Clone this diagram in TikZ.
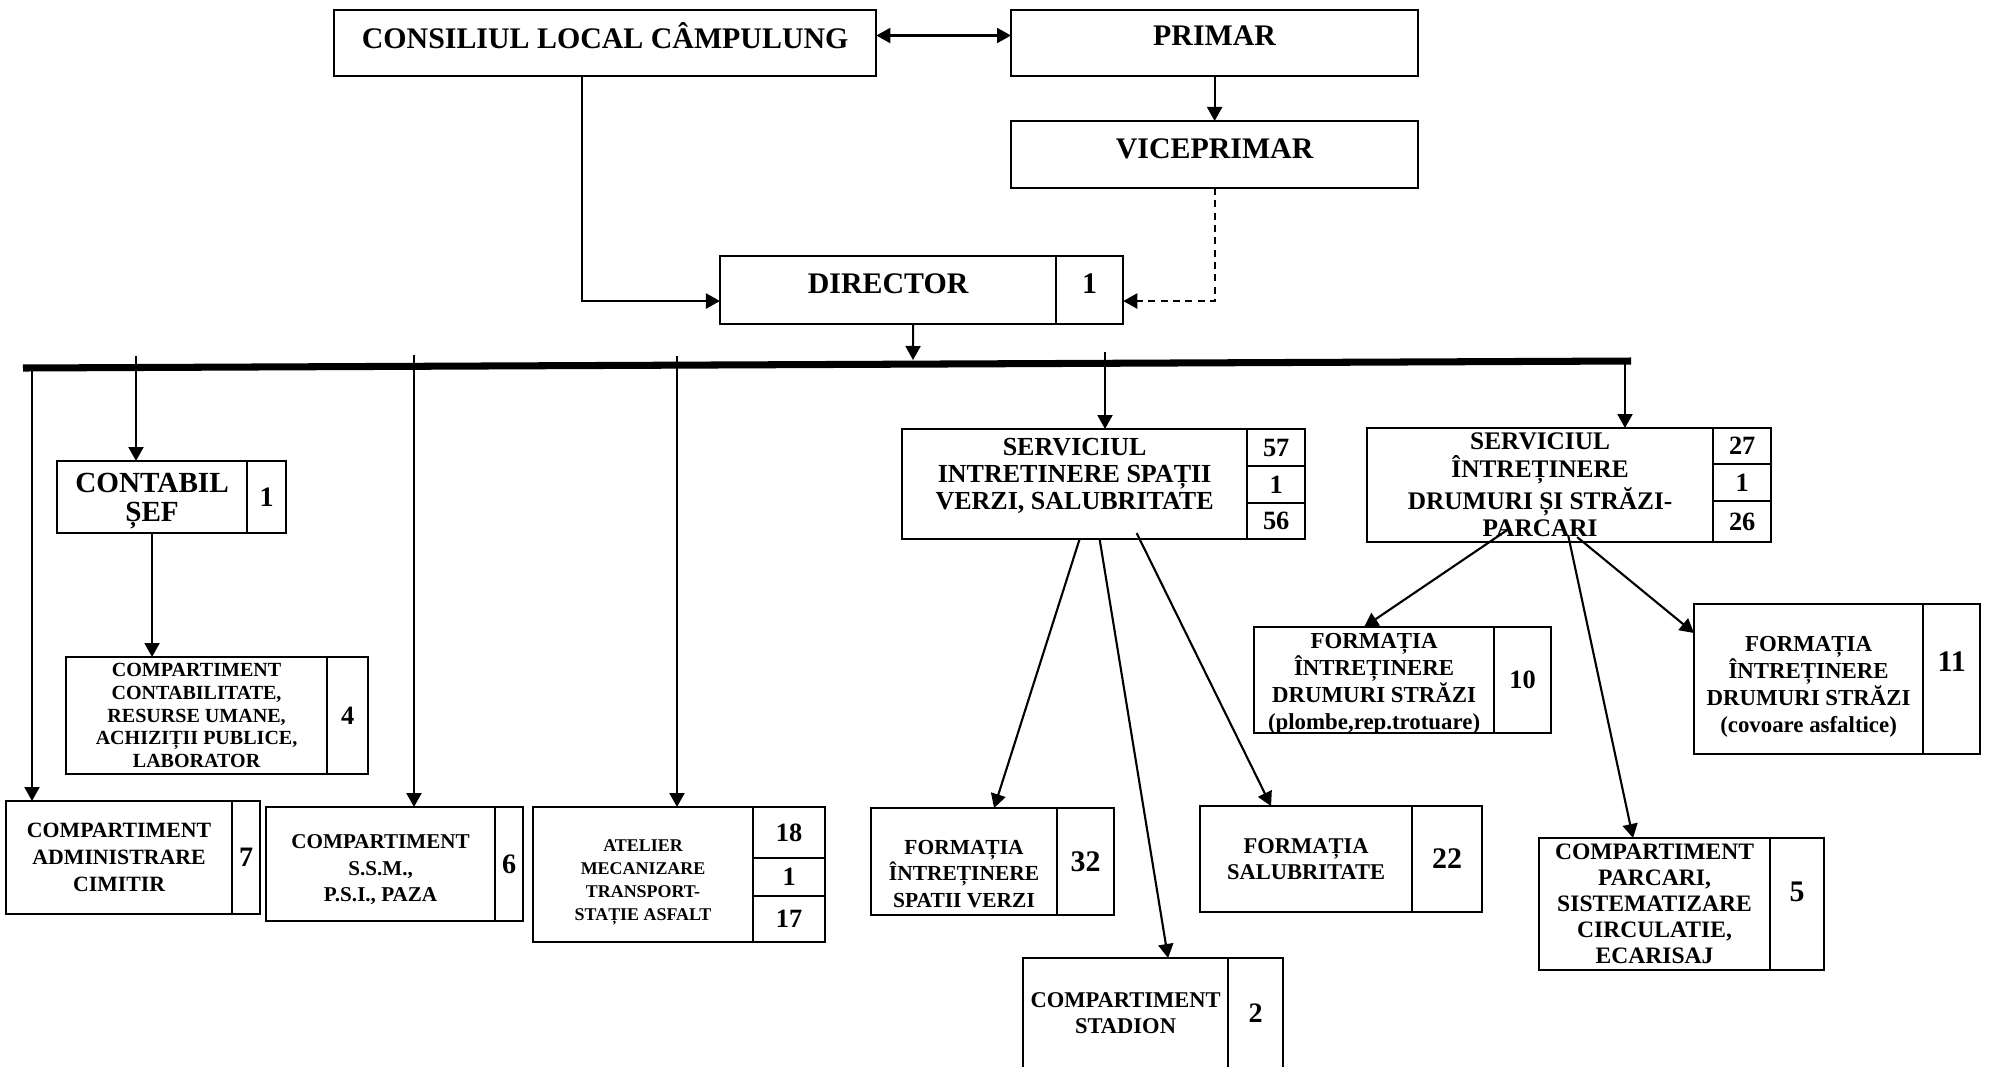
\documentclass[tikz,border=0pt]{standalone}
\usepackage{fontspec}
\setmainfont{Liberation Serif}
\usetikzlibrary{arrows.meta,positioning}

\begin{document}
\begin{tikzpicture}[x=0.01cm,y=-0.01cm,line width=0.6pt,
    box/.style={draw,anchor=north west,inner sep=0pt,outer sep=0pt,align=center},
    f/.style 2 args={font=\bfseries\fontsize{#1}{#2}\selectfont},
    arr/.style={-{Triangle[length=1.4mm,width=1.5mm]}},
    arrs/.style={{Triangle[length=1.4mm,width=1.5mm]}-{Triangle[length=1.4mm,width=1.5mm]}}]
    \useasboundingbox (0,0) rectangle (1990,1066);

    \node[box,f={8.5}{9.5},text depth=4.3pt,minimum width=5.42cm,minimum height=0.66cm] (cons) at (334,10) {CONSILIUL LOCAL CÂMPULUNG};
    \node[box,f={8.5}{9.5},text depth=4.3pt,minimum width=4.07cm,minimum height=0.66cm] (prim) at (1011,10) {PRIMAR};
    \node[box,f={8.5}{9.5},text depth=3.4pt,minimum width=4.07cm,minimum height=0.67cm] (vice) at (1011,121) {VICEPRIMAR};
    \node[box,f={8.5}{9.5},text depth=3.4pt,minimum width=3.36cm,minimum height=0.68cm] (dir) at (720,256) {DIRECTOR};
    \node[box,f={8.5}{9.5},text depth=3.4pt,minimum width=0.67cm,minimum height=0.68cm,right=0pt of dir] (dirn) {1};

    \node[box,f={8.3}{8.3},text height=16pt,minimum width=1.90cm,minimum height=0.72cm] (cont) at (57,461) {CONTABIL\\ȘEF};
    \node[box,f={8}{8},minimum width=0.39cm,minimum height=0.72cm,right=0pt of cont] (contn) {1};
    \node[box,f={5.7}{6.5},minimum width=2.61cm,minimum height=1.17cm] (contab) at (66,657) {COMPARTIMENT\\CONTABILITATE,\\RESURSE UMANE,\\ACHIZIȚII PUBLICE,\\LABORATOR};
    \node[box,f={7.5}{8},minimum width=0.41cm,minimum height=1.17cm,right=0pt of contab] (contabn) {4};

    \node[box,f={6.2}{7.6},minimum width=2.26cm,minimum height=1.13cm] (cim) at (6,801) {COMPARTIMENT\\ADMINISTRARE\\CIMITIR};
    \node[box,f={8}{8},minimum width=0.28cm,minimum height=1.13cm,right=0pt of cim] (cimn) {7};
    \node[box,f={6}{7.6},text height=22.4pt,minimum width=2.29cm,minimum height=1.14cm] (ssm) at (266,807) {COMPARTIMENT\\S.S.M.,\\P.S.I., PAZA};
    \node[box,f={8}{8},minimum width=0.28cm,minimum height=1.14cm,right=0pt of ssm] (ssmn) {6};
    \node[box,f={5.1}{6.5},text height=27.2pt,minimum width=2.20cm,minimum height=1.35cm] (atel) at (533,807) {ATELIER\\MECANIZARE\\TRANSPORT-\\STAȚIE ASFALT};
    \node[box,f={7.5}{8},minimum width=0.72cm,minimum height=0.51cm] (atel1) at (atel.north east) {18};
    \node[box,f={7.5}{8},minimum width=0.72cm,minimum height=0.38cm] (atel2) at (atel1.south west) {1};
    \node[box,f={7.5}{8},minimum width=0.72cm,minimum height=0.46cm] (atel3) at (atel2.south west) {17};

    \node[box,f={7.4}{7.8},text depth=5.8pt,minimum width=3.45cm,minimum height=1.10cm] (sv) at (902,429) {SERVICIUL\\INTRETINERE SPAȚII\\VERZI, SALUBRITATE};
    \node[box,f={7.5}{8},minimum width=0.58cm,minimum height=0.37cm] (sv1) at (sv.north east) {57};
    \node[box,f={7.5}{8},minimum width=0.58cm,minimum height=0.37cm] (sv2) at (sv1.south west) {1};
    \node[box,f={7.5}{8},minimum width=0.58cm,minimum height=0.36cm] (sv3) at (sv2.south west) {56};
    \node[box,f={6.1}{7.5},text height=26pt,minimum width=1.86cm,minimum height=1.07cm] (fsv) at (871,808) {FORMAȚIA\\ÎNTREȚINERE\\SPATII VERZI};
    \node[box,f={8.5}{9},minimum width=0.57cm,minimum height=1.07cm,right=0pt of fsv] (fsvn) {32};
    \node[box,f={6.4}{7.5},minimum width=2.05cm,minimum height=1.10cm] (stad) at (1023,958) {COMPARTIMENT\\STADION};
    \node[box,f={8}{8},minimum width=0.55cm,minimum height=1.10cm,right=0pt of stad] (stadn) {2};
    \node[box,f={6.4}{7.5},minimum width=2.12cm,minimum height=1.06cm] (sal) at (1200,806) {FORMAȚIA\\SALUBRITATE};
    \node[box,f={8.5}{9},minimum width=0.70cm,minimum height=1.06cm,right=0pt of sal] (saln) {22};

    \node[box,f={7.2}{7.8},minimum width=3.46cm,minimum height=1.14cm] (ds) at (1367,428) {SERVICIUL\\ÎNTREȚINERE\\DRUMURI ȘI STRĂZI-\\PARCARI};
    \node[box,f={7.5}{8},minimum width=0.58cm,minimum height=0.36cm] (ds1) at (ds.north east) {27};
    \node[box,f={7.5}{8},minimum width=0.58cm,minimum height=0.37cm] (ds2) at (ds1.south west) {1};
    \node[box,f={7.5}{8},minimum width=0.58cm,minimum height=0.41cm] (ds3) at (ds2.south west) {26};
    \node[box,f={6.5}{7.7},text height=28.3pt,text depth=0pt,minimum width=2.40cm,minimum height=1.06cm] (fds1) at (1254,627) {FORMAȚIA\\ÎNTREȚINERE\\DRUMURI STRĂZI\\(plombe,rep.trotuare)};
    \node[box,f={7.5}{8},minimum width=0.57cm,minimum height=1.06cm,right=0pt of fds1] (fds1n) {10};
    \node[box,f={6.5}{7.7},text height=31.7pt,minimum width=2.29cm,minimum height=1.50cm] (fds2) at (1694,604) {FORMAȚIA\\ÎNTREȚINERE\\DRUMURI STRĂZI\\(covoare asfaltice)};
    \node[box,f={8.5}{9},text depth=10pt,minimum width=0.57cm,minimum height=1.50cm,right=0pt of fds2] (fds2n) {11};
    \node[box,f={6.7}{7.4},minimum width=2.31cm,minimum height=1.32cm] (parc) at (1539,838) {COMPARTIMENT\\PARCARI,\\SISTEMATIZARE\\CIRCULATIE,\\ECARISAJ};
    \node[box,f={8.5}{9},text depth=6.8pt,minimum width=0.54cm,minimum height=1.32cm,right=0pt of parc] (parcn) {5};

    \coordinate (busL) at (23,368);
    \coordinate (busR) at (1631,361);
    \coordinate (bd) at (913,360);
    \coordinate (b1) at (32,366);
    \coordinate (b2) at (136,356);
    \coordinate (b3) at (414,355);
    \coordinate (b4) at (677,356);
    \coordinate (b5) at (1105,352);
    \coordinate (b6) at (1625,361);
    \draw[line width=2pt] (busL) -- (busR);

    \draw[arrs] ([yshift=0.075cm]cons.east) -- ([yshift=0.075cm]prim.west);
    \draw[arr] (prim.south) -- (vice.north);
    \draw[arr] ([xshift=-0.23cm]cons.south) |- ([yshift=-0.11cm]dir.west);
    \draw[arr,dash pattern=on 2pt off 1.5pt] (vice.south) |- ([yshift=-0.11cm]dirn.east);
    \draw[arr] ([xshift=0.25cm]dir.south) -- (bd);

    \draw[arr] (b1) -- (b1 |- cim.north);
    \draw[arr] (b2) -- (b2 |- cont.north);
    \draw[arr] (b3) -- (b3 |- ssm.north);
    \draw[arr] (b4) -- (b4 |- atel.north);
    \draw[arr] (b5) -- (b5 |- sv.north);
    \draw[arr] (b6) -- (b6 |- ds.north);
    \draw[arr] (cont.south) -- (cont.south |- contab.north);

    \draw[arr] ([xshift=0.05cm]sv.south) -- ([xshift=0.3cm]fsv.north);
    \draw[arr] ([xshift=0.25cm]sv.south) -- ([xshift=0.425cm]stad.north);
    \draw[arr] ([xshift=0.62cm,yshift=0.06cm]sv.south) -- ([xshift=-0.35cm]sal.north);

    \draw[arr] ([xshift=-0.3cm,yshift=0.14cm]ds.south) -- ([xshift=-0.1cm]fds1.north);
    \draw[arr] ([xshift=0.28cm,yshift=0.07cm]ds.south) -- ([xshift=-0.215cm]parc.north);
    \draw[arr] ([xshift=0.37cm,yshift=0.05cm]ds.south) -- ([yshift=-0.29cm]fds2.north west);
\end{tikzpicture}
\end{document}
